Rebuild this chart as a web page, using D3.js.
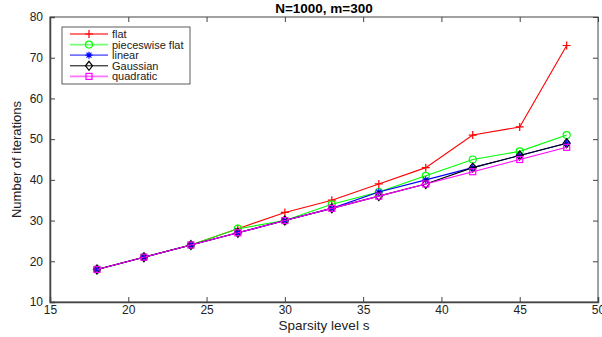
<!DOCTYPE html>
<html>
<head>
<meta charset="utf-8">
<script src="https://cdn.jsdelivr.net/npm/d3@7"></script>
<style>
  body { margin: 0; background: #fff; }
  text { font-family: "Liberation Sans", Arial, sans-serif; }
</style>
</head>
<body>
<div id="chart"></div>
<script>
// data
const sparsity = [18, 21, 24, 27, 30, 33, 36, 39, 42, 45, 48];
const flat = [18, 21, 24, 28, 32, 35, 39, 43, 51, 53, 73];
const pieceswiseFlat = [18, 21, 24, 28, 30, 34, 37, 41, 45, 47, 51];
const linear = [18, 21, 24, 27, 30, 33, 37, 40, 43, 46, 49];
const gaussian = [18, 21, 24, 27, 30, 33, 36, 39, 43, 46, 49];
const quadratic = [18, 21, 24, 27, 30, 33, 36, 39, 42, 45, 48];
const seriesNames = ['flat', 'pieceswise flat', 'linear', 'Gaussian', 'quadratic'];
const xTicks = [15, 20, 25, 30, 35, 40, 45, 50];
const yTicks = [10, 20, 30, 40, 50, 60, 70, 80];

const series = [
  {name: seriesNames[0], values: flat, color: '#ff0000', marker: 'plus'},
  {name: seriesNames[1], values: pieceswiseFlat, color: '#00ff00', marker: 'circle'},
  {name: seriesNames[2], values: linear, color: '#0000ff', marker: 'star'},
  {name: seriesNames[3], values: gaussian, color: '#000000', marker: 'diamond'},
  {name: seriesNames[4], values: quadratic, color: '#ff00ff', marker: 'square'}
];

const W = 602, H = 337;
const margin = {top: 17, right: 4, bottom: 35, left: 50};
const width = W - margin.left - margin.right;
const height = H - margin.top - margin.bottom;
const axisColor = '#444';

const svg = d3.select('#chart').append('svg')
  .attr('width', W)
  .attr('height', H);

const g = svg.append('g')
  .attr('transform', 'translate(' + margin.left + ',' + margin.top + ')');

const x = d3.scaleLinear().domain([15, 50]).range([0, width]);
const y = d3.scaleLinear().domain([10, 80]).range([height, 0]);

// axes box
g.append('rect')
  .attr('width', width)
  .attr('height', height)
  .attr('fill', 'none')
  .attr('stroke', axisColor)
  .attr('stroke-width', 1);

// X Axis (ticks inside)
const xAxis = d3.axisBottom(x).tickValues(xTicks).tickSize(-5).tickPadding(3);
g.append('g')
  .attr('class', 'axis axis--x')
  .attr('transform', 'translate(0,' + height + ')')
  .call(xAxis)
  .call(s => s.select('.domain').attr('stroke', axisColor).attr('stroke-width', 1.5))
  .call(s => s.selectAll('.tick line').attr('stroke', axisColor))
  .call(s => s.selectAll('.tick text').attr('fill', '#222').attr('font-size', 12));

g.append('g')
  .attr('class', 'axis axis--x-top')
  .call(d3.axisTop(x).tickValues(xTicks).tickSize(-5).tickFormat(''))
  .call(s => s.select('.domain').remove())
  .call(s => s.selectAll('.tick line').attr('stroke', axisColor));

// Y Axis
const yAxis = d3.axisLeft(y).tickValues(yTicks).tickSize(-5).tickPadding(7);
g.append('g')
  .attr('class', 'axis axis--y')
  .call(yAxis)
  .call(s => s.select('.domain').attr('stroke', axisColor).attr('stroke-width', 1.5))
  .call(s => s.selectAll('.tick line').attr('stroke', axisColor))
  .call(s => s.selectAll('.tick text').attr('fill', '#222').attr('font-size', 12));

g.append('g')
  .attr('class', 'axis axis--y-right')
  .attr('transform', 'translate(' + width + ',0)')
  .call(d3.axisRight(y).tickValues(yTicks).tickSize(-5).tickFormat(''))
  .call(s => s.select('.domain').remove())
  .call(s => s.selectAll('.tick line').attr('stroke', axisColor));

// title and labels
svg.append('text')
  .attr('x', margin.left + width / 2)
  .attr('y', 13)
  .attr('text-anchor', 'middle')
  .attr('font-size', 13.5)
  .attr('font-weight', 'bold')
  .attr('fill', '#000')
  .text('N=1000, m=300');

svg.append('text')
  .attr('x', margin.left + width / 2)
  .attr('y', H - 7)
  .attr('text-anchor', 'middle')
  .attr('font-size', 13.5)
  .attr('fill', '#222')
  .text('Sparsity level s');

svg.append('text')
  .attr('transform', 'translate(21,' + (margin.top + height / 2) + ') rotate(-90)')
  .attr('text-anchor', 'middle')
  .attr('font-size', 13)
  .attr('fill', '#222')
  .text('Number of iterations');

// marker drawing
function drawMarker(sel, type, color) {
  if (type === 'plus') {
    sel.append('path').attr('d', 'M-4,0H4M0,-4V4')
      .attr('stroke', color).attr('stroke-width', 1.2).attr('fill', 'none');
  } else if (type === 'circle') {
    sel.append('circle').attr('r', 3.5)
      .attr('stroke', color).attr('stroke-width', 1.2).attr('fill', 'none');
  } else if (type === 'star') {
    sel.append('path').attr('d', 'M-3.5,0H3.5M0,-3.5V3.5M-2.5,-2.5L2.5,2.5M-2.5,2.5L2.5,-2.5')
      .attr('stroke', color).attr('stroke-width', 1.2).attr('fill', 'none');
  } else if (type === 'diamond') {
    sel.append('path').attr('d', 'M0,-4.5L3.5,0L0,4.5L-3.5,0Z')
      .attr('stroke', color).attr('stroke-width', 1.2).attr('fill', 'none');
  } else if (type === 'square') {
    sel.append('rect').attr('x', -3).attr('y', -3).attr('width', 6).attr('height', 6)
      .attr('stroke', color).attr('stroke-width', 1.2).attr('fill', 'none');
  }
}

const line = d3.line()
  .x((d, i) => x(sparsity[i]))
  .y(d => y(d));

// Lines and markers
series.forEach(s => {
  g.append('path')
    .attr('d', line(s.values))
    .attr('stroke', s.color)
    .attr('stroke-width', 1.1)
    .attr('fill', 'none');

  g.append('g')
    .selectAll('g')
    .data(s.values)
    .enter().append('g')
      .attr('transform', (d, i) => 'translate(' + x(sparsity[i]) + ',' + y(d) + ')')
      .each(function() { drawMarker(d3.select(this), s.marker, s.color); });
});

// Legend
const legend = {x: 12, y: 10, width: 128, rowHeight: 10.6, lineLen: 38};
const legendG = g.append('g')
  .attr('class', 'legends')
  .attr('transform', 'translate(' + legend.x + ',' + legend.y + ')');

legendG.append('rect')
  .attr('width', legend.width)
  .attr('height', series.length * legend.rowHeight + 4)
  .attr('fill', '#fff')
  .attr('stroke', '#333')
  .attr('stroke-width', 0.8);

const rows = legendG.selectAll('g.legend')
  .data(series)
  .enter().append('g')
    .attr('class', 'legend')
    .attr('transform', (d, i) => 'translate(0,' + (7 + i * legend.rowHeight) + ')');

rows.append('line')
  .attr('x1', 8).attr('x2', 8 + legend.lineLen)
  .attr('stroke', d => d.color)
  .attr('stroke-opacity', d => d.name === 'Gaussian' ? 1 : 0.55)
  .attr('stroke-width', d => d.name === 'Gaussian' ? 1 : 1.8);

rows.each(function(d) {
  const m = d3.select(this).append('g').attr('transform', 'translate(' + (8 + legend.lineLen / 2) + ',0)');
  drawMarker(m, d.marker, d.color);
});

rows.append('text')
  .attr('x', 50)
  .attr('y', 4)
  .attr('font-size', 11)
  .attr('fill', '#222')
  .text(d => d.name);
</script>
</body>
</html>
